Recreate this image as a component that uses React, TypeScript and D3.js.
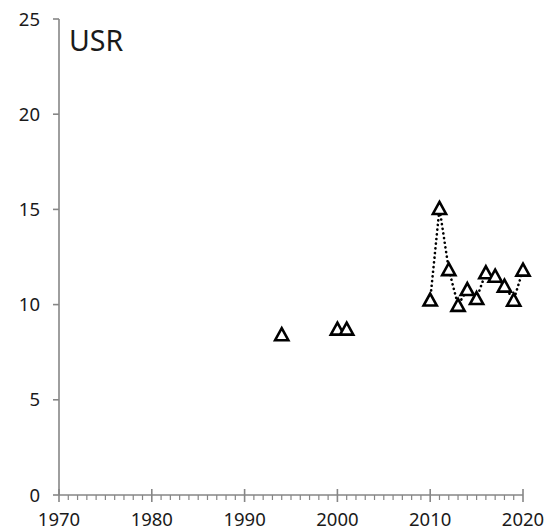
import React from "react";
import * as d3 from "d3";

const years = [1994, 2000, 2001, 2010, 2011, 2012, 2013, 2014, 2015, 2016, 2017, 2018, 2019, 2020];
const values = [8.43, 8.72, 8.72, 10.25, 15.06, 11.85, 9.97, 10.8, 10.33, 11.68, 11.5, 10.98, 10.24, 11.82];
const connectedFrom = 2010;
const yTicks = [0, 5, 10, 15, 20, 25];
const xTicks = [1970, 1980, 1990, 2000, 2010, 2020];
const minorTicks = d3.range(1970, 2021).filter((y) => y % 10 !== 0);
const title = "USR";

export default function App() {
  const W = 559, H = 532;
  const x = d3.scaleLinear().domain([1970, 2020]).range([59, 523]);
  const y = d3.scaleLinear().domain([0, 25]).range([495, 19]);
  const axisColor = "#868686";
  const font = "'Noto Sans', 'Open Sans', sans-serif";
  const pts = years.map((yr, i) => ({ yr, v: values[i] }));
  const linePts = pts.filter((p) => p.yr >= connectedFrom);
  const line = d3.line<{ yr: number; v: number }>().x((d) => x(d.yr)).y((d) => y(d.v));
  const tri = (cx: number, cy: number) =>
    `M${cx},${cy - 6.3}L${cx + 6.6},${cy + 5.7}L${cx - 6.6},${cy + 5.7}Z`;
  return (
    <svg width={W} height={H} style={{ position: "absolute", left: 0, top: 0, background: "#fff" }}>
      <rect width={W} height={H} fill="#fff" />
      {/* y axis */}
      <line x1={59} x2={59} y1={y(25)} y2={y(0)} stroke={axisColor} strokeWidth={1.6} />
      {yTicks.map((t) => (
        <g key={t}>
          <line x1={53} x2={59} y1={y(t)} y2={y(t)} stroke={axisColor} strokeWidth={1.6} />
          <text x={40} y={y(t)} dy="0.36em" textAnchor="end" fontFamily={font} fontSize={18.5} fill="#1a1a1a">
            {t}
          </text>
        </g>
      ))}
      {/* x axis */}
      <line x1={x(1970)} x2={x(2020)} y1={495} y2={495} stroke={axisColor} strokeWidth={1.6} />
      {minorTicks.map((t) => (
        <line key={t} x1={x(t)} x2={x(t)} y1={495} y2={500} stroke={axisColor} strokeWidth={1.2} />
      ))}
      {xTicks.map((t) => (
        <g key={t}>
          <line x1={x(t)} x2={x(t)} y1={489} y2={502} stroke={axisColor} strokeWidth={1.6} />
          <text x={x(t)} y={519.5} dy="0.36em" textAnchor="middle" fontFamily={font} fontSize={18.5} fill="#1a1a1a">
            {t}
          </text>
        </g>
      ))}
      <text x={69} y={50.5} fontFamily={font} fontSize={28.5} fill="#1a1a1a">
        {title}
      </text>
      <path
        d={line(linePts) || ""}
        fill="none"
        stroke="#000"
        strokeWidth={2.6}
        strokeDasharray="0.1 4.6"
        strokeLinecap="round"
      />
      {pts.map((p) => (
        <path key={p.yr} d={tri(x(p.yr), y(p.v))} fill="#fff" stroke="#000" strokeWidth={2.6} />
      ))}
    </svg>
  );
}
